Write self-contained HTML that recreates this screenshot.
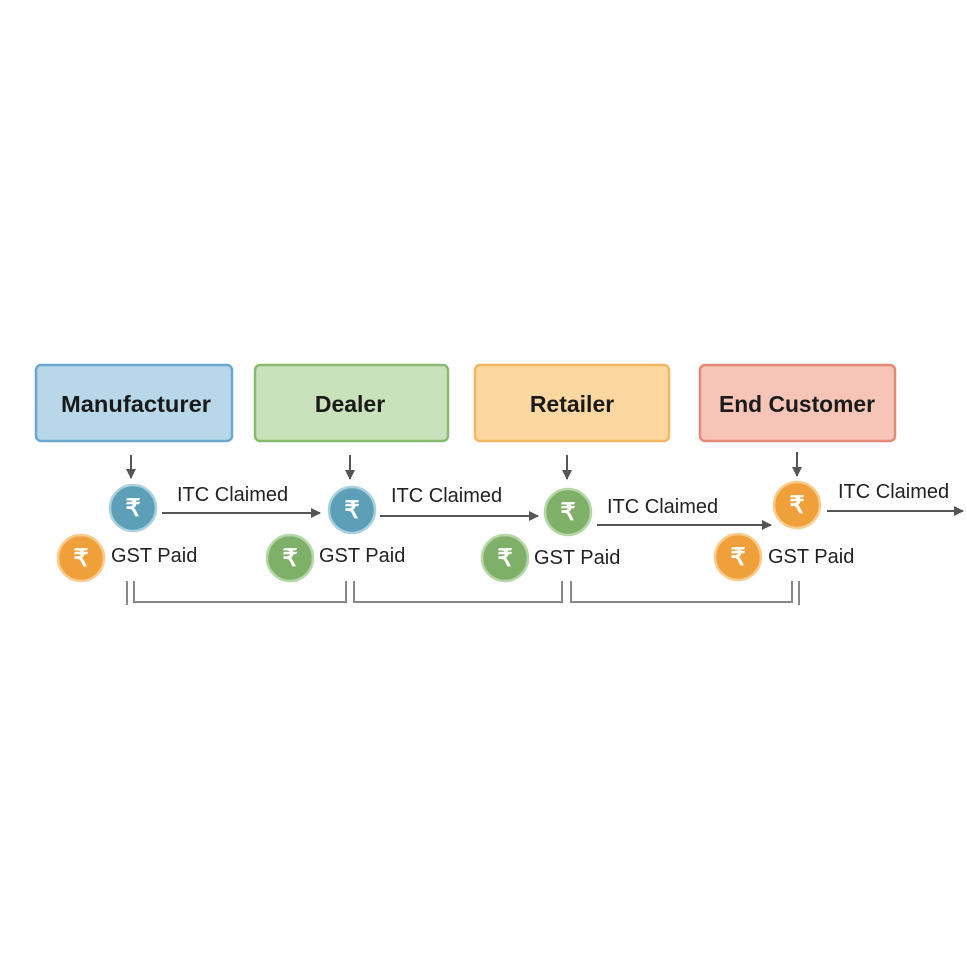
<!DOCTYPE html>
<html><head><meta charset="utf-8"><style>
html,body{margin:0;padding:0;background:#fff;}
svg{display:block;}
text{font-family:"Liberation Sans",sans-serif;}
</style></head><body>
<svg width="967" height="953" viewBox="0 0 967 953" xmlns="http://www.w3.org/2000/svg">
<defs>
<marker id="a" markerWidth="10" markerHeight="10" refX="9" refY="5" orient="auto" markerUnits="userSpaceOnUse">
<path d="M0,0 L10,5 L0,10 z" fill="#555"/></marker>
<g id="r"><text x="0" y="8" font-size="24" font-weight="bold" fill="#fff" text-anchor="middle" font-family="DejaVu Sans, sans-serif">₹</text></g>
</defs>
<rect x="36" y="365" width="196" height="76" rx="5" fill="#b8d8e9" stroke="#6aa8cf" stroke-width="2.5"/>
<rect x="255" y="365" width="193" height="76" rx="5" fill="#c9e2bb" stroke="#86bb70" stroke-width="2.5"/>
<rect x="475" y="365" width="194" height="76" rx="5" fill="#fcd8a0" stroke="#f2b760" stroke-width="2.5"/>
<rect x="700" y="365" width="195" height="76" rx="5" fill="#f6c5b8" stroke="#e48a76" stroke-width="2.5"/>
<g font-size="23" font-weight="bold" fill="#1a1a1a" text-anchor="middle">
<text x="136" y="412" textLength="150" lengthAdjust="spacingAndGlyphs">Manufacturer</text>
<text x="350" y="412">Dealer</text>
<text x="572" y="412">Retailer</text>
<text x="797" y="412" textLength="156" lengthAdjust="spacingAndGlyphs">End Customer</text>
</g>
<g stroke="#555" stroke-width="2" fill="none">
<line x1="131" y1="455" x2="131" y2="478" marker-end="url(#a)"/>
<line x1="350" y1="455" x2="350" y2="479" marker-end="url(#a)"/>
<line x1="567" y1="455" x2="567" y2="479" marker-end="url(#a)"/>
<line x1="797" y1="452" x2="797" y2="476" marker-end="url(#a)"/>
<line x1="162" y1="513" x2="320" y2="513" marker-end="url(#a)"/>
<line x1="380" y1="516" x2="538" y2="516" marker-end="url(#a)"/>
<line x1="597" y1="525" x2="771" y2="525" marker-end="url(#a)"/>
<line x1="827" y1="511" x2="963" y2="511" marker-end="url(#a)"/>
</g>
<g stroke-width="2.5">
<circle cx="133" cy="508" r="23" fill="#5e9fb8" stroke="#a9d0de"/>
<circle cx="352" cy="510" r="23" fill="#5e9fb8" stroke="#a9d0de"/>
<circle cx="568" cy="512" r="23" fill="#7fb069" stroke="#b5d6a6"/>
<circle cx="797" cy="505" r="23" fill="#f0a03a" stroke="#f8cc8c"/>
<circle cx="81" cy="558" r="23" fill="#f0a03a" stroke="#f8cc8c"/>
<circle cx="290" cy="558" r="23" fill="#7fb069" stroke="#b5d6a6"/>
<circle cx="505" cy="558" r="23" fill="#7fb069" stroke="#b5d6a6"/>
<circle cx="738" cy="557" r="23" fill="#f0a03a" stroke="#f8cc8c"/>
</g>
<use href="#r" x="133" y="508"/><use href="#r" x="352" y="510"/><use href="#r" x="568" y="512"/><use href="#r" x="797" y="505"/>
<use href="#r" x="81" y="558"/><use href="#r" x="290" y="558"/><use href="#r" x="505" y="558"/><use href="#r" x="738" y="557"/>
<g font-size="20" fill="#222">
<text x="177" y="501">ITC Claimed</text>
<text x="391" y="502">ITC Claimed</text>
<text x="607" y="513">ITC Claimed</text>
<text x="838" y="498">ITC Claimed</text>
<text x="111" y="562">GST Paid</text>
<text x="319" y="562">GST Paid</text>
<text x="534" y="564">GST Paid</text>
<text x="768" y="563">GST Paid</text>
</g>
<g stroke="#888" stroke-width="2" fill="none">
<line x1="127" y1="581" x2="127" y2="605"/>
<polyline points="134,581 134,602 346,602 346,581"/>
<polyline points="354,581 354,602 562,602 562,581"/>
<polyline points="571,581 571,602 792,602 792,581"/>
<line x1="799" y1="581" x2="799" y2="605"/>
</g>
</svg>
</body></html>
